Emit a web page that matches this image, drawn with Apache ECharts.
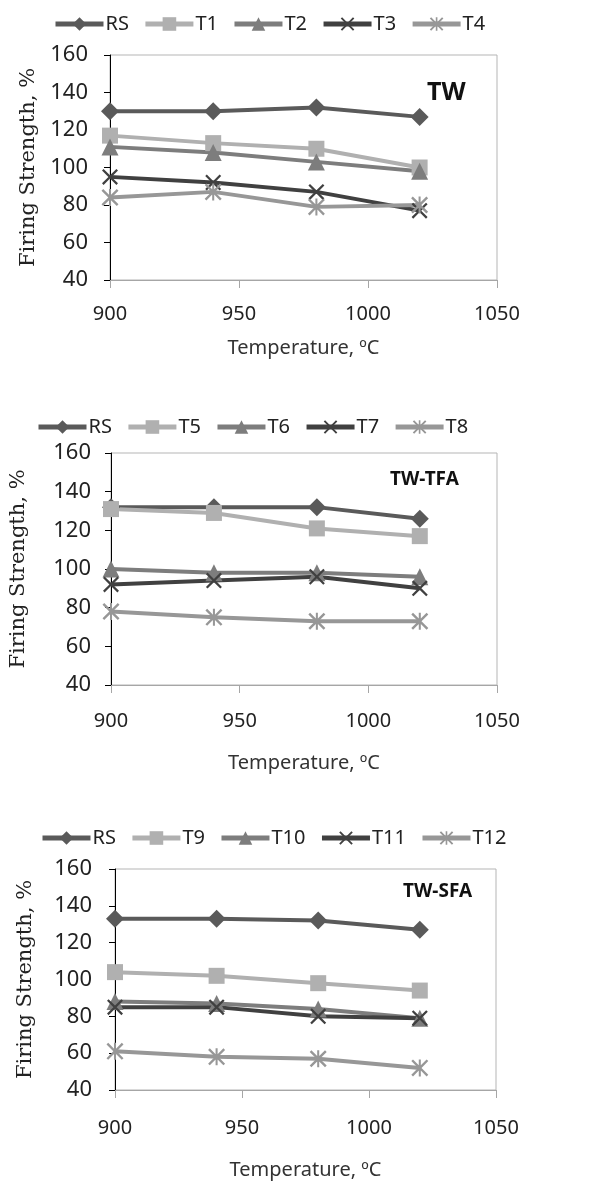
<!DOCTYPE html>
<html>
<head>
<meta charset="utf-8">
<script src="https://cdn.jsdelivr.net/npm/echarts@6/dist/echarts.min.js"></script>
<style>
  html, body { margin: 0; padding: 0; background: #fff; }
  #chart { width: 601px; height: 1181px; }
</style>
</head>
<body>
<div id="chart"></div>
<script>
// temperatures, same for all three panels
var temps = [900, 940, 980, 1020]
var xTicks = [900, 950, 1000, 1050]
var yTicks = [40, 60, 80, 100, 120, 140, 160]

// panel 1 : TW
var names1 = ['RS', 'T1', 'T2', 'T3', 'T4']
var rs1 = [130, 130, 132, 127]
var t1 = [117, 113, 110, 100]
var t2 = [111, 108, 103, 98]
var t3 = [95, 92, 87, 77]
var t4 = [84, 87, 79, 80]

// panel 2 : TW-TFA
var names2 = ['RS', 'T5', 'T6', 'T7', 'T8']
var rs2 = [132, 132, 132, 126]
var t5 = [131, 129, 121, 117]
var t6 = [100, 98, 98, 96]
var t7 = [92, 94, 96, 90]
var t8 = [78, 75, 73, 73]

// panel 3 : TW-SFA
var names3 = ['RS', 'T9', 'T10', 'T11', 'T12']
var rs3 = [133, 133, 132, 127]
var t9 = [104, 102, 98, 94]
var t10 = [88, 87, 84, 79]
var t11 = [85, 85, 80, 79]
var t12 = [61, 58, 57, 52]

var panelLabels = ['TW', 'TW-TFA', 'TW-SFA']

var crossPath = 'path://M1,0L5,4L9,0L10,1L6,5L10,9L9,10L5,6L1,10L0,9L4,5L0,1Z'
var starPath = 'path://M1,0L5,4L9,0L10,1L6,5L10,9L9,10L5,6L1,10L0,9L4,5L0,1Z M4.4,0L5.6,0L5.6,10L4.4,10Z'

var colors = ['#5a5a5a', '#b0b0b0', '#7d7d7d', '#404040', '#979797']
var symbols = ['diamond', 'rect', 'triangle', crossPath, starPath]
var sizes = [18, 16, 17, 16, 17]

var grids = [
  { left: 110, top: 55, width: 387, height: 225 },
  { left: 102, top: 453, width: 395, height: 232 },
  { left: 115, top: 869, width: 381, height: 226 }
]
var legendPos = [{ left: 48, top: 9 }, { left: 31, top: 412 }, { left: 35, top: 823 }]
var yNameGap = [66, 82, 79]
var yLabelGap = [22, 20, 23]
var xNameGap = [58, 68, 70]
var xLabelGap = [24, 26, 28]
var labelPos = [[427, 80, 25], [390, 470, 19], [403, 882, 19]]

var panels = [
  { names: names1, data: [rs1, t1, t2, t3, t4] },
  { names: names2, data: [rs2, t5, t6, t7, t8] },
  { names: names3, data: [rs3, t9, t10, t11, t12] }
]

var xAxis = [], yAxis = [], series = [], legend = [], graphic = []

panels.forEach(function (p, g) {
  xAxis.push({
    type: 'value', gridIndex: g, min: 900, max: 1050, interval: 50,
    name: 'Temperature, ºC', nameLocation: 'middle', nameGap: xNameGap[g],
    nameTextStyle: { fontFamily: 'Noto Sans', fontSize: 20, color: '#333' },
    axisLine: { lineStyle: { color: '#a6a6a6', width: 1 } },
    axisTick: { length: 8, lineStyle: { color: '#a6a6a6' } },
    axisLabel: { fontFamily: 'Noto Sans', fontSize: 20, color: '#222', margin: xLabelGap[g],
      formatter: function (v) { return xTicks.indexOf(v) > -1 ? v : '' } },
    splitLine: { show: false }
  })
  yAxis.push({
    type: 'value', gridIndex: g, min: 40, max: 160, interval: 20,
    name: 'Firing Strength, %', nameLocation: 'middle', nameGap: yNameGap[g], nameRotate: 90,
    nameTextStyle: { fontFamily: 'DejaVu Serif', fontSize: 21, color: '#222' },
    axisLine: { show: true, lineStyle: { color: '#000', width: 1 } },
    axisTick: { show: true, length: 6, lineStyle: { color: '#000' } },
    axisLabel: { fontFamily: 'Noto Sans', fontSize: 22, color: '#222', margin: yLabelGap[g],
      formatter: function (v) { return yTicks.indexOf(v) > -1 ? v : '' } },
    splitLine: { show: false }
  })
  legend.push({
    left: legendPos[g].left, top: legendPos[g].top,
    data: p.names.map(function (n) { return { name: n } }),
    itemWidth: 48, itemHeight: 17, itemGap: 14,
    lineStyle: { width: 5 },
    textStyle: { fontFamily: 'Noto Sans', fontSize: 20, color: '#222', padding: [0, 0, 0, -3] },
    selectedMode: false
  })
  p.names.forEach(function (n, i) {
    series.push({
      name: n, type: 'line', xAxisIndex: g, yAxisIndex: g,
      data: temps.map(function (t, k) { return [t, p.data[i][k]] }),
      symbol: symbols[i], symbolSize: sizes[i],
      lineStyle: { color: colors[i], width: 4 },
      itemStyle: { color: colors[i] },
      animation: false
    })
  })
  graphic.push({
    type: 'text', left: labelPos[g][0], top: labelPos[g][1],
    style: { text: panelLabels[g], fontFamily: 'Noto Sans', fontWeight: 'bold',
      fontSize: labelPos[g][2], fill: '#111' }
  })
})

var chart = echarts.init(document.getElementById('chart'))
chart.setOption({
  animation: false,
  grid: grids.map(function (gr) {
    return Object.assign({ show: true, borderColor: '#b5b5b5', borderWidth: 1, backgroundColor: 'transparent' }, gr)
  }),
  xAxis: xAxis,
  yAxis: yAxis,
  legend: legend,
  series: series,
  graphic: graphic
})
</script>
</body>
</html>
